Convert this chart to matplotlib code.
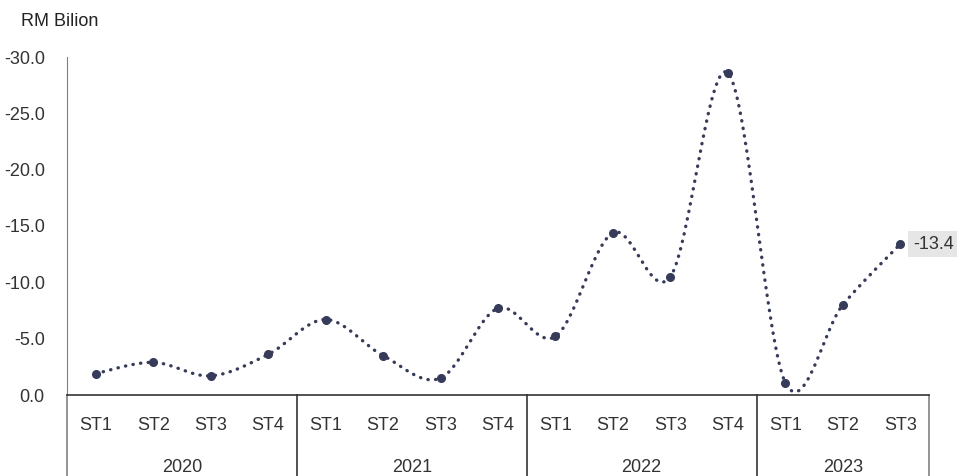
import numpy as np
import matplotlib.pyplot as plt
from matplotlib.transforms import blended_transform_factory

plt.rcParams['font.family'] = ['Liberation Sans', 'DejaVu Sans']

# Data
years = ['2020', '2021', '2022', '2023']
quarters = ['ST1', 'ST2', 'ST3', 'ST4', 'ST1', 'ST2', 'ST3', 'ST4',
            'ST1', 'ST2', 'ST3', 'ST4', 'ST1', 'ST2', 'ST3']
quarters_per_year = [4, 4, 4, 3]
values = [-1.9, -2.9, -1.7, -3.6, -6.7, -3.5, -1.5, -7.7,
          -5.2, -14.4, -10.5, -28.6, -1.1, -8.0, -13.4]
y_ticks = [0, -5, -10, -15, -20, -25, -30]

LINE_COLOR = '#363b5a'
TEXT_COLOR = '#333333'
FS = 13


def smooth_curve(x, y, n=30):
    """Excel-style smoothed line (Bezier with 1/6 tension)"""
    x = np.asarray(x, float)
    y = np.asarray(y, float)
    px = np.concatenate([[x[0]], x, [x[-1]]])
    py = np.concatenate([[y[0]], y, [y[-1]]])
    out_x, out_y = [], []
    t = np.linspace(0, 1, n)
    for i in range(1, len(px) - 2):
        p0 = np.array([px[i], py[i]])
        p3 = np.array([px[i + 1], py[i + 1]])
        p1 = p0 + (np.array([px[i + 1], py[i + 1]]) - np.array([px[i - 1], py[i - 1]])) / 6
        p2 = p3 - (np.array([px[i + 2], py[i + 2]]) - np.array([px[i], py[i]])) / 6
        b = ((1 - t) ** 3)[:, None] * p0 + (3 * (1 - t) ** 2 * t)[:, None] * p1 \
            + (3 * (1 - t) * t ** 2)[:, None] * p2 + (t ** 3)[:, None] * p3
        out_x.extend(b[:, 0])
        out_y.extend(b[:, 1])
    return np.array(out_x), np.array(out_y)


fig = plt.figure(figsize=(9.57, 4.76), dpi=100)
ax = fig.add_axes([67 / 957, 81 / 476, 862 / 957, 338 / 476])

x = np.arange(len(values))
sx, sy = smooth_curve(x, values)
ax.plot(sx, sy, color=LINE_COLOR, linewidth=2.4, linestyle=(0, (0.1, 2.2)),
        dash_capstyle='round', clip_on=False)
ax.plot(x, values, 'o', color=LINE_COLOR, markersize=5.5, clip_on=False)

# Last value label
ax.annotate(f'{values[-1]:.1f}', (x[-1], values[-1]), xytext=(9, 0),
            textcoords='offset points', va='center', ha='left', fontsize=FS,
            color=TEXT_COLOR,
            bbox=dict(boxstyle='square,pad=0.25', facecolor='#e6e6e6', edgecolor='none'))

ax.set_xlim(-0.5, len(values) - 0.5)
ax.set_ylim(0, -30)
ax.set_yticks(y_ticks)
ax.set_yticklabels([f'{v:.1f}' for v in y_ticks], fontsize=FS, color=TEXT_COLOR)
ax.tick_params(axis='y', length=0, pad=16)
ax.set_xticks([])

for side in ['top', 'right']:
    ax.spines[side].set_visible(False)
ax.spines['left'].set_color('#808080')
ax.spines['bottom'].set_color('#333333')
ax.spines['bottom'].set_linewidth(1.2)

# Two-level category axis
trans = blended_transform_factory(ax.transData, fig.transFigure)
bottom_frac = 81 / 476
for i, q in enumerate(quarters):
    ax.text(i, 50 / 476, q, transform=trans, ha='center', va='center',
            fontsize=FS, color=TEXT_COLOR)

start = 0
bounds = [-0.5]
for yr, n in zip(years, quarters_per_year):
    mid = start + (n - 1) / 2
    ax.text(mid, 9 / 476, yr, transform=trans, ha='center', va='center',
            fontsize=FS, color=TEXT_COLOR)
    start += n
    bounds.append(start - 0.5)

for i, b in enumerate(bounds):
    col = '#808080' if i in (0, len(bounds) - 1) else '#333333'
    ax.plot([b, b], [0, bottom_frac], transform=trans, color=col,
            linewidth=1.2, clip_on=False)

fig.text(21 / 957, 1 - 22 / 476, 'RM Bilion', ha='left', va='center',
         fontsize=FS, color='#222222')

fig.savefig('out.png', dpi=100)
